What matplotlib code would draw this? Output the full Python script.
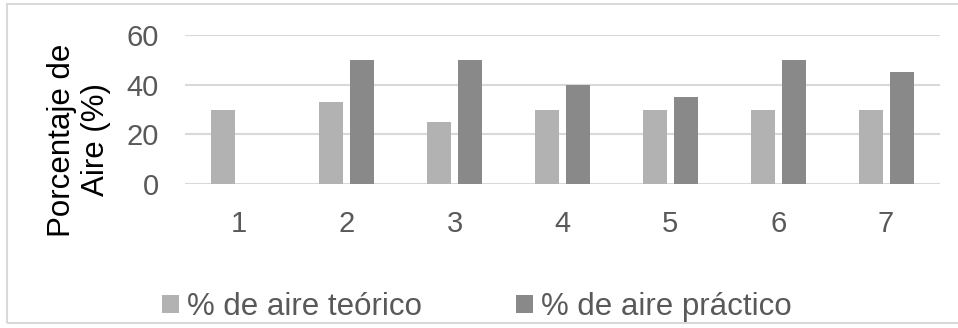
import matplotlib.pyplot as plt
import numpy as np
from matplotlib.patches import Rectangle

plt.rcParams["font.family"] = ["Liberation Sans", "DejaVu Sans"]

categories = ["1", "2", "3", "4", "5", "6", "7"]
aire_teorico = [30, 33, 25, 30, 30, 30, 30]
aire_practico = [0, 50, 50, 40, 35, 50, 45]
y_ticks = [0, 20, 40, 60]

LIGHT = "#b2b2b2"
DARK = "#898989"
TEXT_GRAY = "#595959"
GRID = "#d9d9d9"

W, H = 958, 328
fig = plt.figure(figsize=(W / 100, H / 100), dpi=100)

# outer chart frame (open on the right)
fig.patches.append(
    Rectangle((7 / W, 1 - 323 / H), 1.0, (323 - 4) / H,
              transform=fig.transFigure, fill=False,
              edgecolor=GRID, linewidth=1.5, zorder=0)
)

left, right, top, bottom = 185, 940, 35, 184
ax = fig.add_axes([left / W, 1 - bottom / H, (right - left) / W, (bottom - top) / H])

x = np.arange(len(categories))
offset = 0.144
width = 0.222
ax.bar(x - offset, aire_teorico, width, color=LIGHT, label="% de aire teórico", zorder=2)
ax.bar(x + offset, aire_practico, width, color=DARK, label="% de aire práctico", zorder=2)

ax.set_xlim(-0.5, len(categories) - 0.5)
ax.set_ylim(0, 60)
ax.set_yticks(y_ticks)
ax.set_xticks(x)
ax.set_xticklabels(categories)
ax.tick_params(axis="both", length=0, labelsize=21, labelcolor=TEXT_GRAY)
ax.tick_params(axis="x", pad=19)
ax.tick_params(axis="y", pad=19)

for s in ax.spines.values():
    s.set_visible(False)
ax.grid(axis="y", color=GRID, linewidth=1.5, zorder=0)
ax.set_axisbelow(True)

fig.text(79 / W, 1 - 140 / H, "Porcentaje de\nAire (%)", rotation=90,
         ha="center", va="center", multialignment="center",
         fontsize=22.5, color="black", linespacing=1.2)

handles, labels = ax.get_legend_handles_labels()
fig.legend(handles, labels, loc="center", bbox_to_anchor=(477 / W, 1 - 307 / H),
           ncol=2, frameon=False, fontsize=22.5, labelcolor=TEXT_GRAY,
           handlelength=0.55, handleheight=0.55, handletextpad=0.25,
           columnspacing=3.0, borderpad=0, borderaxespad=0)

fig.savefig("out.png", dpi=100)
